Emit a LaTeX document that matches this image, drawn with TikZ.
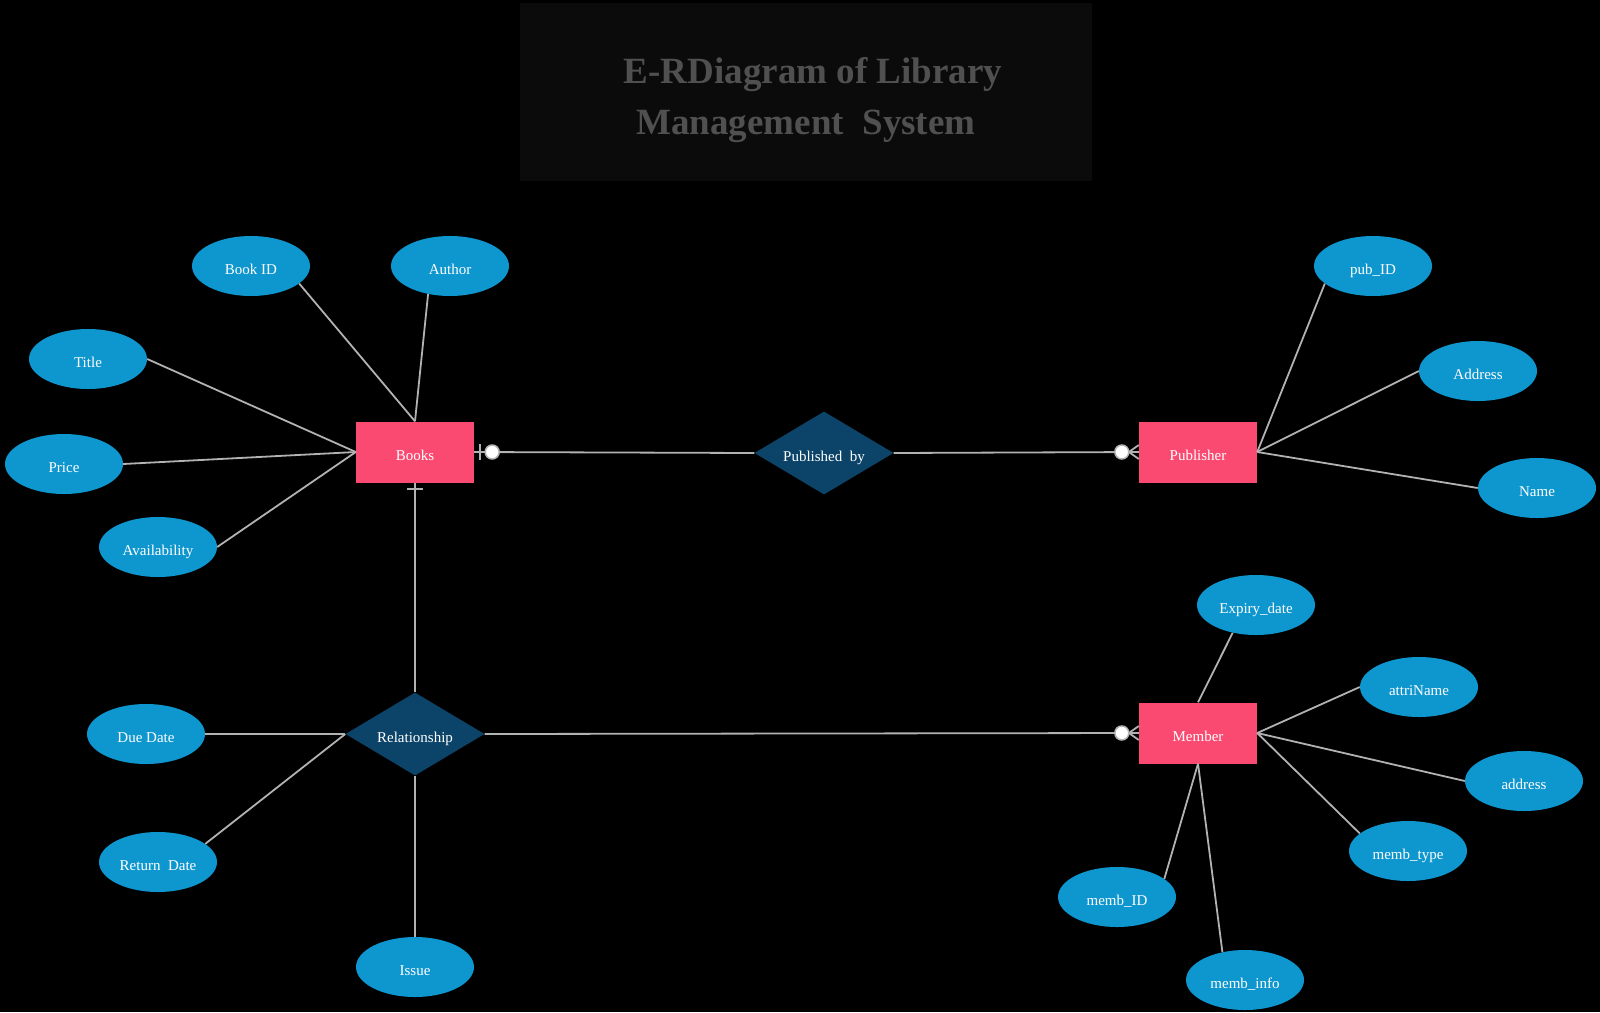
\documentclass[tikz,border=0pt]{standalone}
\usepackage{fontspec}
\setmainfont{Liberation Serif}
\usetikzlibrary{shapes.geometric,calc}
\definecolor{titlebg}{RGB}{11,11,11}
\definecolor{titlefg}{RGB}{80,80,80}
\definecolor{entc}{RGB}{250,74,113}
\definecolor{relc}{RGB}{12,68,105}
\definecolor{attc}{RGB}{14,150,206}
\definecolor{linec}{RGB}{178,178,178}
\begin{document}
\begin{tikzpicture}[x=1pt,y=-1pt,
  entity/.style={rectangle, fill=entc, minimum width=118pt, minimum height=61pt, inner sep=0pt, font=\fontsize{15}{18}\selectfont, text=white, text height=17pt, text depth=0pt},
  relation/.style={diamond, fill=relc, minimum width=139pt, minimum height=83pt, inner sep=0pt, shape aspect=1.67, font=\fontsize{15}{18}\selectfont, text=white, text height=17pt, text depth=0pt},
  attr/.style={ellipse, fill=attc, minimum width=118pt, minimum height=60pt, inner sep=0pt, font=\fontsize{15}{18}\selectfont, text=white, text height=17pt, text depth=0pt},
  conn/.style={draw=linec, line width=1.8pt},
  zcirc/.style={draw=linec, fill=white, line width=1.5pt},
  ttl/.style={font=\bfseries\fontsize{37}{44}\selectfont, text=titlefg, inner sep=0pt}]
\fill[black] (0,0) rectangle (1600,1012);
\useasboundingbox (0,0) rectangle (1600,1012);
% title
\node[fill=titlebg, minimum width=572pt, minimum height=178pt, inner sep=0pt] (titlebox) at (806,92) {};
\node[ttl] (t1) at (813,75) {E-RDiagram of Library};
\node[ttl] (t2) at (806,126) {Management\ \ System};
% entities
\node[entity] (books) at (415,452) {Books};
\node[entity] (publisher) at (1198,452) {Publisher};
\node[entity] (member) at (1198,733) {Member};
% relationships
\node[relation] (pubby) at (824,453) {Published\ \ by};
\node[relation] (rel) at (415,734) {Relationship};
% attributes
\node[attr] (bookid) at (251,266) {Book ID};
\node[attr] (author) at (450,266) {Author};
\node[attr] (title) at (88,359) {Title};
\node[attr] (price) at (64,464) {Price};
\node[attr] (avail) at (158,547) {Availability};
\node[attr] (pubid) at (1373,266) {pub\_ID};
\node[attr] (paddr) at (1478,371) {Address};
\node[attr] (pname) at (1537,488) {Name};
\node[attr] (expiry) at (1256,605) {Expiry\_date};
\node[attr] (attri) at (1419,687) {attriName};
\node[attr] (maddr) at (1524,781) {address};
\node[attr] (mtype) at (1408,851) {memb\_type};
\node[attr] (mid) at (1117,897) {memb\_ID};
\node[attr] (minfo) at (1245,980) {memb\_info};
\node[attr] (due) at (146,734) {Due Date};
\node[attr] (ret) at (158,862) {Return\ \ Date};
\node[attr] (issue) at (415,967) {Issue};
% attribute lines
\draw[conn] (bookid.-20) -- (books.north);
\draw[conn] (author.-128) -- (books.north);
\draw[conn] (title.east) -- (books.west);
\draw[conn] (price.east) -- (books.west);
\draw[conn] (avail.east) -- (books.west);
\draw[conn] (pubid.-160) -- (publisher.east);
\draw[conn] (paddr.west) -- (publisher.east);
\draw[conn] (pname.west) -- (publisher.east);
\draw[conn] (expiry.-130) -- (member.north);
\draw[conn] (attri.west) -- (member.east);
\draw[conn] (maddr.west) -- (member.east);
\draw[conn] (mtype.160) -- (member.east);
\draw[conn] (mid.21) -- (member.south);
\draw[conn] (minfo.129) -- (member.south);
\draw[conn] (due.east) -- (rel.west);
\draw[conn] (ret.21) -- (rel.west);
\draw[conn] (issue.north) -- (rel.south);
% Books -- Published by
\draw[conn] (books.east) -- (pubby.west);
\draw[conn] ($(books.east)+(6,-8)$) -- ($(books.east)+(6,8)$);
\draw[zcirc] ($(books.east)+(18,0)$) circle (7);
% Published by -- Publisher
\draw[conn] (pubby.east) -- (publisher.west);
\draw[conn] ($(publisher.west)+(-10,0)$) -- ($(publisher.west)+(0,-7)$);
\draw[conn] ($(publisher.west)+(-10,0)$) -- ($(publisher.west)+(0,7)$);
\draw[zcirc] ($(publisher.west)+(-17,0)$) circle (7);
% Books -- Relationship
\draw[conn] (books.south) -- (rel.north);
\draw[conn] ($(books.south)+(-8,6)$) -- ($(books.south)+(8,6)$);
% Relationship -- Member
\draw[conn] (rel.east) -- (member.west);
\draw[conn] ($(member.west)+(-10,0)$) -- ($(member.west)+(0,-7)$);
\draw[conn] ($(member.west)+(-10,0)$) -- ($(member.west)+(0,7)$);
\draw[zcirc] ($(member.west)+(-17,0)$) circle (7);
\end{tikzpicture}
\end{document}
